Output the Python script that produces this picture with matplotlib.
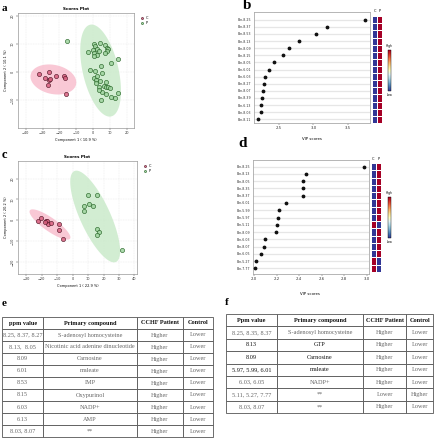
import numpy as np
import matplotlib
matplotlib.use("Agg")
import matplotlib.pyplot as plt
from matplotlib.cm import ScalarMappable
from matplotlib.colors import Normalize

# ---- panel a: PLS-DA scores (first dataset)
a_c_x = [-32.3, -28.4, -26.0, -26.2, -26.8, -25.8, -21.9, -17.5, -16.5, -16.3]
a_c_y = [-0.8, -2.0, -0.1, -2.9, -4.7, -2.7, -1.6, -1.5, -2.2, -8.0]
a_p_x = [-15.5, -3.1, -0.4, 0.4, 1.0, 4.0, 2.0, 0.6, 2.0, 0.6, 3.6, 7.1, 7.9, 8.9,
         8.3, 6.7, 10.3, 14.4, 4.4, -2.1, 1.2, 5.0, 0.6, 2.4, 1.6, 3.9, 7.5, 3.2,
         6.3, 7.5, 8.9, 9.9, 5.2, 7.5, 10.7, 12.7, 14.4, 4.6, 3.2, 1.8]
a_p_y = [11.1, 7.1, 7.9, 10.0, 9.4, 10.2, 8.2, 6.7, 5.9, 5.5, 7.6, 9.6, 8.5, 8.0,
         7.4, 6.8, 3.2, 4.5, 2.2, 0.8, 0.4, -0.4, -2.0, -1.5, -2.9, -3.2, -3.6, -5.5,
         -5.1, -5.5, -5.5, -5.9, -7.1, -8.0, -8.8, -9.4, -7.5, -10.0, -6.5, -4.1]
# confidence ellipses: centre (x, y), half-axis vector u, half-axis vector v (data units)
a_c_ell = (-23.6, -2.7, 13.4, -1.76, -1.87, -5.06)
a_p_ell = (4.28, 0.47, -6.21, 16.35, 10.3, 1.39)

# ---- panel c: PLS-DA scores (second dataset)
c_c_x = [-22.3, -20.3, -17.3, -16.9, -16.2, -14.1, -9.1, -8.7, -6.5, -17.7]
c_c_y = [-0.3, 1.1, -0.3, -0.3, -1.9, -1.3, -1.8, -4.6, -9.1, -1.0]
c_p_x = [10.0, 15.8, 10.8, 13.0, 7.1, 7.4, 15.6, 16.9, 15.6, 32.0]
c_p_y = [12.1, 12.1, 7.8, 6.9, 6.9, 4.3, -4.3, -5.7, -7.0, -14.0]
c_c_ell = (-14.7, -2.0, 13.0, -6.77, -2.51, -2.6)
c_p_ell = (14.6, 1.83, -13.5, 21.75, 8.87, 3.0)

# ---- panel b: VIP scores
b_labels = ["Bin-8.25", "Bin-8.37", "Bin-8.53", "Bin-8.13", "Bin-8.09", "Bin-8.15",
            "Bin-8.05", "Bin-6.01", "Bin-6.03", "Bin-8.27", "Bin-8.07", "Bin-8.39",
            "Bin-6.13", "Bin-8.03", "Bin-8.11"]
b_vip = [3.75, 3.19, 3.04, 2.79, 2.645, 2.56, 2.43, 2.35, 2.30, 2.29, 2.27, 2.25,
         2.245, 2.24, 2.20]
b_heat = [[0, 1]] * 15

# ---- panel d: VIP scores
d_labels = ["Bin-8.25", "Bin-8.13", "Bin-8.05", "Bin-8.35", "Bin-8.37", "Bin-6.01",
            "Bin-5.99", "Bin-5.97", "Bin-5.11", "Bin-8.09", "Bin-6.03", "Bin-8.07",
            "Bin-6.05", "Bin-5.27", "Bin-7.77"]
d_vip = [2.98, 2.458, 2.434, 2.43, 2.43, 2.28, 2.22, 2.21, 2.20, 2.19, 2.10, 2.09,
         2.06, 2.02, 2.01]
d_heat = [[0, 1]] * 8 + [[1, 0]] + [[0, 1]] * 4 + [[1, 0]] * 2

# ---- tables
e_cols = ["ppm value", "Primary compound", "CCHF Patient", "Control"]
e_rows = [["8.25, 8.37, 8.27", "S-adenosyl homocysteine", "Higher", "Lower"],
          ["8.13,  8.05", "Nicotinic acid adenine dinucleotide", "Higher", "Lower"],
          ["8.09", "Carnosine", "Higher", "Lower"],
          ["6.01", "maleate", "Higher", "Lower"],
          ["8.53", "IMP", "Higher", "Lower"],
          ["8.15", "Oxypurinol", "Higher", "Lower"],
          ["6.03", "NADP+", "Higher", "Lower"],
          ["6.13", "AMP", "Higher", "Lower"],
          ["8.03, 8.07", "**", "Higher", "Lower"]]
f_cols = ["Ppm value", "Primary compound", "CCHF Patient", "Control"]
f_rows = [["8.25, 8.35, 8.37", "S-adenosyl homocysteine", "Higher", "Lower"],
          ["8.13", "GTP", "Higher", "Lower"],
          ["8.09", "Carnosine", "Higher", "Lower"],
          ["5.97, 5.99, 6.01", "maleate", "Higher", "Lower"],
          ["6.03, 6.05", "NADP+", "Higher", "Lower"],
          ["5.11, 5.27, 7.77", "**", "Lower", "Higher"],
          ["8.03, 8.07", "**", "Higher", "Lower"]]
f_dark = [(2, 0), (2, 1), (3, 0), (3, 1), (4, 0), (4, 1)]

W, H = 437, 440
fig = plt.figure(figsize=(W / 100, H / 100), dpi=100)


def rect(l, t, r, b):
    return [l / W, 1 - b / H, (r - l) / W, (b - t) / H]


def draw_ellipse(ax, e, col):
    t = np.linspace(0, 2 * np.pi, 200)
    x = e[0] + e[2] * np.cos(t) + e[4] * np.sin(t)
    y = e[1] + e[3] * np.cos(t) + e[5] * np.sin(t)
    ax.fill(x, y, color=col, alpha=0.75, lw=0, zorder=1)


def scores_plot(ax, cx, cy, px, py, cell, pell, xlab, ylab):
    draw_ellipse(ax, cell, "#f7b6c8")
    draw_ellipse(ax, pell, "#c4e8c4")
    ax.scatter(cx, cy, s=9, facecolor="#d9607f", edgecolor="#4a1020", linewidth=0.5,
               alpha=0.85, zorder=3, label="C")
    ax.scatter(px, py, s=9, facecolor="#9fd49f", edgecolor="#1e5e1e", linewidth=0.5,
               alpha=0.85, zorder=3, label="P")
    ax.grid(True, color="#dddddd", linestyle=(0, (2, 2)), linewidth=0.3)
    ax.set_axisbelow(True)
    for s in ax.spines.values():
        s.set_color("#999999")
        s.set_linewidth(0.5)
    ax.tick_params(labelsize=2.5, length=1.2, width=0.3, pad=1, colors="#333333")
    for t in ax.get_yticklabels():
        t.set_rotation(90)
        t.set_va("center")
    ax.set_title("Scores Plot", fontsize=3, fontweight="bold", pad=2)
    ax.set_xlabel(xlab, fontsize=2.5, labelpad=2)
    ax.set_ylabel(ylab, fontsize=2.5, labelpad=2)
    ax.legend(loc="upper left", bbox_to_anchor=(1.02, 0.99), fontsize=2.5, frameon=False,
              markerscale=0.5, handletextpad=0.2, labelspacing=0.3, borderpad=0)


axa = fig.add_axes(rect(18, 13, 134, 128))
axa.set_xlim(-44.5, 24)
axa.set_ylim(-20, 21)
axa.set_xticks([-40, -30, -20, -10, 0, 10, 20])
axa.set_yticks([-10, 0, 10, 20])
scores_plot(axa, a_c_x, a_c_y, a_p_x, a_p_y, a_c_ell, a_p_ell,
            "Component 1 ( 10.9 %)", "Component 2 ( 10.1 %)")

axc = fig.add_axes(rect(18, 161, 137, 274))
axc.set_xlim(-35.4, 41.7)
axc.set_ylim(-25.7, 28.4)
axc.set_xticks([-30, -20, -10, 0, 10, 20, 30, 40])
axc.set_yticks([-20, -10, 0, 10, 20])
scores_plot(axc, c_c_x, c_c_y, c_p_x, c_p_y, c_c_ell, c_p_ell,
            "Component 1 ( 22.9 %)", "Component 2 ( 20.2 %)")


def vip_plot(ax, hax, cax, labels, vip, heat, xlim, ylim, xticks):
    n = len(labels)
    ypos = np.arange(n)[::-1]
    for y in ypos:
        ax.axhline(y, color="#e6e6e6", linewidth=0.9, zorder=1)
    ax.scatter(vip, ypos, s=3, color="#111111", zorder=3)
    ax.set_yticks(ypos)
    ax.set_yticklabels(labels)
    ax.set_xticks(xticks)
    ax.set_xlim(*xlim)
    ax.set_ylim(*ylim)
    ax.tick_params(axis="y", labelsize=2.3, length=0, pad=2, colors="#333333")
    ax.tick_params(axis="x", labelsize=2.8, length=1.2, width=0.3, pad=1, colors="#333333")
    for s in ax.spines.values():
        s.set_color("#aaaaaa")
        s.set_linewidth(0.6)
    ax.set_xlabel("VIP scores", fontsize=2.8, labelpad=5)

    grid = np.array(heat, dtype=float)[::-1]
    hax.pcolormesh(np.arange(3), np.arange(n + 1) - 0.5, grid, cmap="RdYlBu_r",
                   vmin=0, vmax=1, edgecolor="white", linewidth=0.6)
    hax.set_ylim(*ylim)
    hax.set_xlim(0, 2)
    hax.axis("off")
    hax.text(0.5, ylim[1] - 0.2, "C", fontsize=2.5, ha="center", va="bottom")
    hax.text(1.5, ylim[1] - 0.2, "P", fontsize=2.5, ha="center", va="bottom")

    cb = fig.colorbar(ScalarMappable(Normalize(0, 1), cmap="RdYlBu_r"), cax=cax)
    cb.set_ticks([])
    cb.outline.set_linewidth(0.3)
    cax.text(0.5, 1.04, "High", fontsize=2.2, ha="center", va="bottom", transform=cax.transAxes)
    cax.text(0.5, -0.04, "Low", fontsize=2.2, ha="center", va="top", transform=cax.transAxes)


axb = fig.add_axes(rect(254, 12, 370, 123))
hb = fig.add_axes(rect(372, 12, 382, 123))
cbb = fig.add_axes(rect(388, 50, 391, 91))
vip_plot(axb, hb, cbb, b_labels, b_vip, b_heat, (2.14, 3.82), (-0.52, 15.09), [2.5, 3.0, 3.5])

axd = fig.add_axes(rect(253, 160, 369, 274))
hd = fig.add_axes(rect(371, 160, 381, 274))
cbd = fig.add_axes(rect(388, 197, 391, 238))
vip_plot(axd, hd, cbd, d_labels, d_vip, d_heat, (1.99, 3.02), (-0.78, 14.92),
         [2.0, 2.2, 2.4, 2.6, 2.8, 3.0])
axd.set_xlabel("")
fig.text(310 / W, 1 - 294 / H, "VIP scores", fontsize=2.8, ha="center", va="center")


def draw_table(ax, cols, rows, widths, dark=()):
    ax.axis("off")
    tb = ax.table(cellText=rows, colLabels=cols, colWidths=widths, cellLoc="center",
                  bbox=[0, 0, 1, 1])
    tb.auto_set_font_size(False)
    for (r, c), cell in tb.get_celld().items():
        cell.set_linewidth(0.6)
        cell.set_edgecolor("#555555")
        txt = cell.get_text()
        txt.set_fontfamily("Liberation Serif")
        txt.set_fontsize(4.5)
        if r == 0:
            txt.set_fontweight("bold")
            txt.set_color("#111111")
        elif (r, c) in dark:
            txt.set_color("#111111")
        else:
            txt.set_color("#666666")


axe = fig.add_axes(rect(2, 317, 213, 437))
draw_table(axe, e_cols, e_rows, [41.6, 93.4, 46.6, 30])
axf = fig.add_axes(rect(226, 314, 433, 413))
draw_table(axf, f_cols, f_rows, [50.7, 86.6, 43.4, 26.6], f_dark)

# panel letters
for lab, x, y, fs in [("a", 2, 11, 8), ("b", 243, 9, 11), ("c", 2, 158, 9),
                      ("d", 238, 147, 11), ("e", 2, 306, 8), ("f", 225, 305, 8)]:
    fig.text(x / W, 1 - y / H, lab, fontsize=fs, fontweight="bold",
             family="Liberation Serif", va="baseline")

fig.savefig("out.png", dpi=100)
